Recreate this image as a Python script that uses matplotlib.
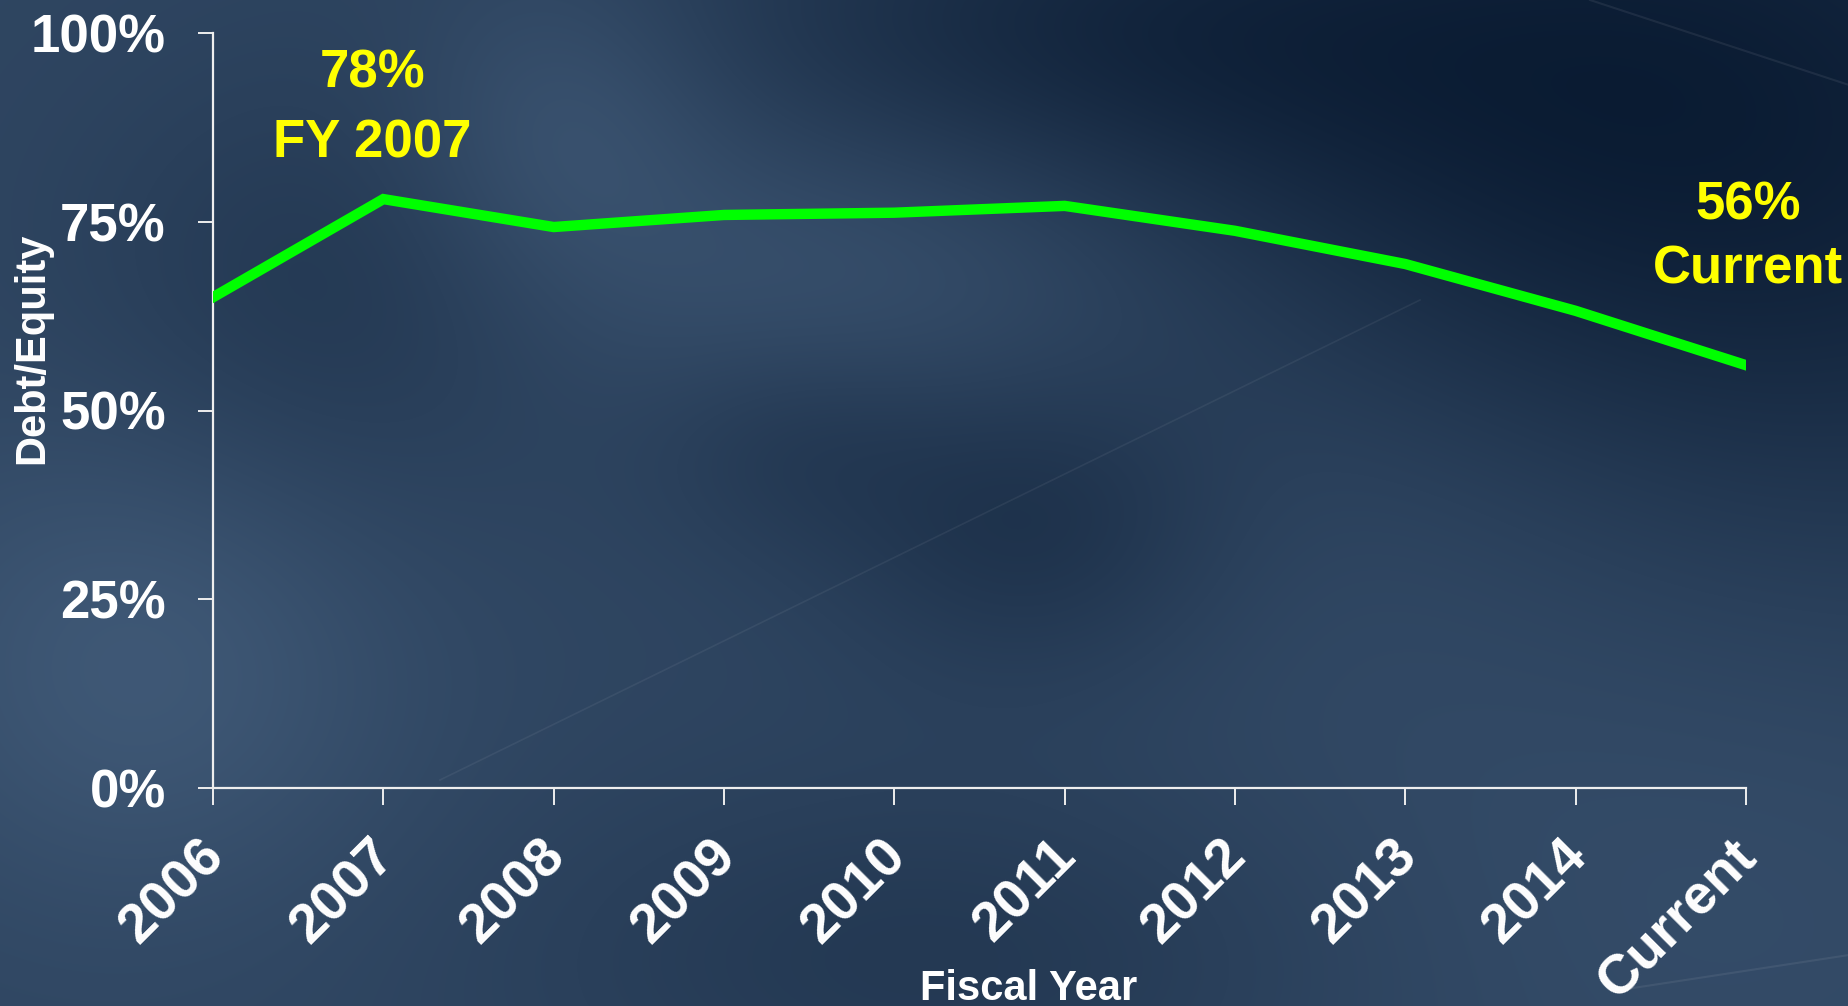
import numpy as np
import matplotlib.pyplot as plt
from matplotlib.transforms import ScaledTranslation

# Debt/Equity ratio by fiscal year
years = ["2006", "2007", "2008", "2009", "2010", "2011", "2012", "2013", "2014", "Current"]
debt_equity = [65.0, 78.0, 74.3, 75.9, 76.2, 77.1, 73.8, 69.4, 63.2, 56.0]
y_ticks = [0, 25, 50, 75, 100]
y_tick_labels = ["0%", "25%", "50%", "75%", "100%"]

W, H, DPI = 1849, 1006, 100
plt.rcParams["font.family"] = ["Liberation Sans", "DejaVu Sans"]
plt.rcParams["font.weight"] = "bold"

fig = plt.figure(figsize=(W / DPI, H / DPI), dpi=DPI)

# ── slide backdrop: dark blue with soft light/dark patches ──────────────────
bg = fig.add_axes([0, 0, 1, 1], zorder=-10)
yy, xx = np.mgrid[0:H, 0:W].astype(float)


def blob(cx, cy, sx, sy, amp):
    return amp * np.exp(-(((xx - cx) / sx) ** 2 + ((yy - cy) / sy) ** 2) / 2)


b = np.full((H, W), 0.58)
b += blob(1700, 140, 420, 320, -0.55)
b += blob(1050, 40, 300, 120, -0.28)
b += blob(330, 300, 180, 160, -0.18)
b += blob(565, 118, 110, 110, 0.20)
b += blob(880, 260, 250, 130, 0.20)
b += blob(1380, 480, 250, 150, 0.12)
b += blob(1030, 520, 140, 110, -0.25)
b += blob(790, 440, 110, 80, -0.15)
b += blob(140, 660, 180, 170, 0.25)
b += blob(1650, 800, 350, 250, 0.12)
b += blob(950, 960, 300, 130, -0.18)
b = np.clip(b, 0, 1)

dark = np.array([10, 27, 50]) / 255
light = np.array([74, 101, 132]) / 255
img = dark + b[..., None] * (light - dark)
bg.imshow(img, extent=[0, W, H, 0], aspect="auto", interpolation="bilinear")
# faint light streaks
bg.plot([440, 1420], [780, 300], color="white", alpha=0.06, lw=1.2)
bg.plot([1590, 1849], [0, 85], color="white", alpha=0.07, lw=1.5)
bg.plot([1620, 1849], [990, 955], color="white", alpha=0.07, lw=1.5)
bg.set_xlim(0, W)
bg.set_ylim(H, 0)
bg.axis("off")

# ── chart ────────────────────────────────────────────────────────────────────
ax = fig.add_axes([213 / W, 1 - 788 / H, (1746 - 213) / W, (788 - 33) / H])
ax.patch.set_visible(False)

xs = np.arange(len(years))
ax.plot(xs, debt_equity, color="#00ff00", lw=7.5,
        solid_capstyle="projecting", solid_joinstyle="miter", zorder=3)

ax.set_xlim(0, len(years) - 1)
ax.set_ylim(0, 100)
ax.set_yticks(y_ticks)
ax.set_yticklabels(y_tick_labels)
ax.set_xticks(xs)
ax.set_xticklabels(years, rotation=45, ha="right")

for side in ("top", "right"):
    ax.spines[side].set_visible(False)
for side in ("left", "bottom"):
    ax.spines[side].set_color("#eeeeee")
    ax.spines[side].set_linewidth(1.6)

ax.tick_params(axis="y", direction="out", length=11, width=1.4, color="#eeeeee",
               pad=23, labelsize=38, labelcolor="white")
ax.tick_params(axis="x", direction="out", length=12.5, width=1.4, color="#eeeeee",
               pad=18, labelsize=40, labelcolor="white")
shift = ScaledTranslation(22 / DPI, 0, fig.dpi_scale_trans)
for lbl in ax.get_xticklabels():
    lbl.set_transform(lbl.get_transform() + shift)

fig.text(32 / W, 1 - 348 / H, "Debt/Equity", rotation=90, ha="center", va="center",
         fontsize=30, color="white", fontweight="bold")
fig.text(1029 / W, 1 - 1000 / H, "Fiscal Year", ha="center", va="baseline",
         fontsize=30, color="white", fontweight="bold")

# callouts for peak and latest ratio
ax.annotate(f"{debt_equity[1]:.0f}%\nFY 2007", xy=(1, debt_equity[1]),
            xytext=(-11, 42), textcoords="offset pixels",
            ha="center", va="baseline", multialignment="center", linespacing=1.5,
            fontsize=38, color="#ffff00", fontweight="bold", annotation_clip=False)
ax.annotate(f"{debt_equity[-1]:.0f}%\nCurrent", xy=(len(years) - 1, debt_equity[-1]),
            xytext=(2, 82), textcoords="offset pixels",
            ha="center", va="baseline", multialignment="center", linespacing=1.35,
            fontsize=38, color="#ffff00", fontweight="bold", annotation_clip=False)

fig.savefig("out.png", dpi=DPI)
